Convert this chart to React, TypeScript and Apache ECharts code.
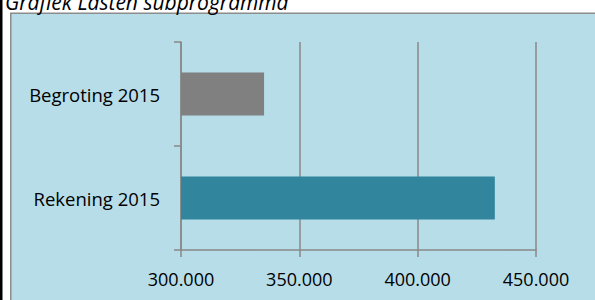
import React, { useEffect, useRef } from "react";
import * as echarts from "echarts";

const categories = ["Rekening 2015", "Begroting 2015"];
const values = [432600, 335100];
const barColors = ["#31859C", "#808080"];
const xMin = 300000;
const xMax = 450000;
const xStep = 50000;
const title = "Grafiek Lasten subprogramma";

const fmt = (v: number) => String(v).replace(/\B(?=(\d{3})+(?!\d))/g, ".");

export default function App() {
  const ref = useRef<HTMLDivElement>(null);
  useEffect(() => {
    if (!ref.current) return;
    const chart = echarts.init(ref.current, null, { renderer: "svg" });
    const axisColor = "#888888";
    chart.setOption({
      animation: false,
      graphic: [
        {
          type: "rect",
          z: -10,
          shape: { x: 10.75, y: 13.25, width: 700, height: 400 },
          style: { fill: "#B7DDE8", stroke: "#8C8C8C", lineWidth: 1.5 },
        },
        {
          type: "rect",
          z: -5,
          shape: { x: 0, y: 0, width: 2.5, height: 300 },
          style: { fill: "#000000" },
        },
        {
          type: "text",
          z: 10,
          x: 5,
          y: 1.5,
          style: {
            text: title,
            font: "italic 21px 'Open Sans'",
            fill: "#000000",
            verticalAlign: "middle",
            align: "left",
          },
        },
      ],
      grid: { left: 181, right: 59, top: 42, bottom: 50 },
      xAxis: {
        type: "value",
        min: xMin,
        max: xMax,
        interval: xStep,
        axisLine: { show: true, lineStyle: { color: axisColor, width: 1.5 } },
        axisTick: { show: true, length: 7, lineStyle: { color: axisColor, width: 1.5 } },
        splitLine: { show: true, lineStyle: { color: axisColor, width: 1.5 } },
        axisLabel: {
          formatter: (v: number) => fmt(v),
          color: "#000000",
          fontFamily: "Open Sans",
          fontSize: 18,
          margin: 20,
        },
      },
      yAxis: {
        type: "category",
        data: categories,
        axisLine: { show: true, lineStyle: { color: axisColor, width: 1.5 } },
        axisTick: { show: true, length: 7, lineStyle: { color: axisColor, width: 1.5 } },
        axisLabel: {
          color: "#000000",
          fontFamily: "Open Sans",
          fontSize: 18.5,
          margin: 21,
        },
      },
      series: [
        {
          type: "bar",
          barWidth: 43,
          data: values.map((v, i) => ({ value: v, itemStyle: { color: barColors[i] } })),
        },
      ],
    });
    return () => chart.dispose();
  }, []);
  return (
    <div
      ref={ref}
      style={{ position: "absolute", left: 0, top: 0, width: 595, height: 300 }}
    />
  );
}
